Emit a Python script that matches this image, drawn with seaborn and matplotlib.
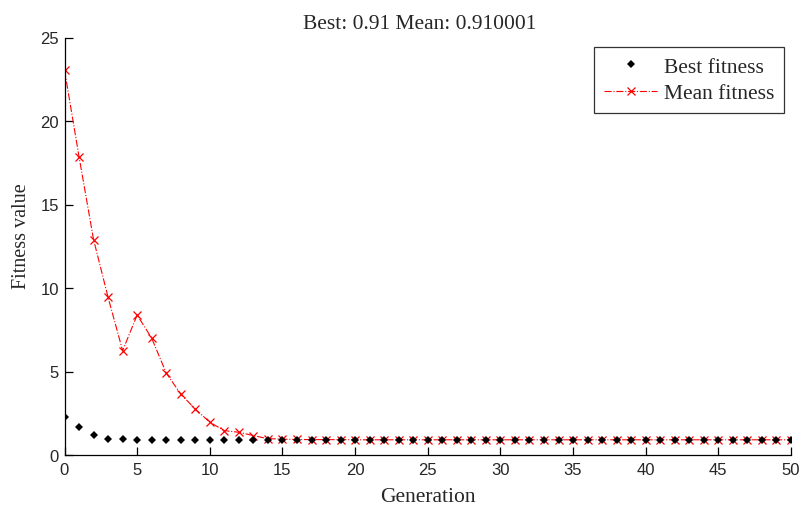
import numpy as np
import pandas as pd
import matplotlib
matplotlib.use("Agg")
import matplotlib.pyplot as plt
import seaborn as sns

generations = list(range(0, 51))
best_fitness = [2.26, 1.70, 1.22, 0.95, 0.93, 0.92, 0.92, 0.92, 0.91, 0.91,
                0.91, 0.91, 0.91, 0.91, 0.91] + [0.91] * 36
mean_fitness = [23.05, 17.86, 12.9, 9.44, 6.25, 8.38, 7.0, 4.91, 3.65, 2.75,
                1.96, 1.46, 1.36, 1.16, 0.98, 0.95, 0.93, 0.92, 0.92, 0.92] + [0.91] * 31
title_text = "Best: 0.91 Mean: 0.910001"

df = pd.DataFrame({"Generation": generations, "Best": best_fitness, "Mean": mean_fitness})

sns.set_style("white")
plt.rcParams["font.family"] = ["Liberation Serif", "DejaVu Serif"]

fig = plt.figure(figsize=(8.01, 5.06), dpi=100)
ax = fig.add_axes([64.5 / 801, 50 / 506, (791 - 64.5) / 801, (456 - 38.5) / 506])

sns.lineplot(data=df, x="Generation", y="Mean", ax=ax, color="#ff0000",
             linestyle="-.", linewidth=0.8, marker="x", markersize=5.5,
             markeredgewidth=0.9, markeredgecolor="#ff0000",
             label="Mean fitness", zorder=2)
sns.lineplot(data=df, x="Generation", y="Best", ax=ax, color="black",
             linestyle="none", marker="D", markersize=3.8, markeredgewidth=0,
             markeredgecolor="black", label="Best fitness", zorder=3)

ax.set_xlim(0, 50)
ax.set_ylim(0, 25)
ax.set_xticks(range(0, 51, 5))
ax.set_yticks(range(0, 26, 5))
for s in ["top", "right"]:
    ax.spines[s].set_visible(False)
for s in ["left", "bottom"]:
    ax.spines[s].set_color("black")
    ax.spines[s].set_linewidth(0.9)
ax.tick_params(direction="in", length=6, width=0.9, color="black",
               labelsize=12, bottom=True, left=True)
ax.tick_params(axis="x", pad=5)
ax.tick_params(axis="y", pad=4)
for lbl in ax.get_xticklabels() + ax.get_yticklabels():
    lbl.set_fontfamily(["Liberation Sans", "DejaVu Sans"])
ax.set_xlabel("Generation", fontsize=15.5, labelpad=7)
ax.set_ylabel("Fitness value", fontsize=14.5)
ax.yaxis.set_label_coords(-0.046, 0.527)
ax.set_title(title_text, fontsize=15.5, pad=7, x=0.489)

handles, labels = ax.get_legend_handles_labels()
order = [1, 0]
leg = ax.legend([handles[i] for i in order], [labels[i] for i in order],
                loc="upper right", bbox_to_anchor=(784 / 801, 458 / 506),
                bbox_transform=fig.transFigure,
                fontsize=15.5, frameon=True, fancybox=False, edgecolor="black",
                handlelength=2.5, handletextpad=0.3, borderpad=0.45,
                labelspacing=0.3, borderaxespad=0)
leg.get_frame().set_linewidth(0.9)

fig.savefig("out.png", dpi=100)
